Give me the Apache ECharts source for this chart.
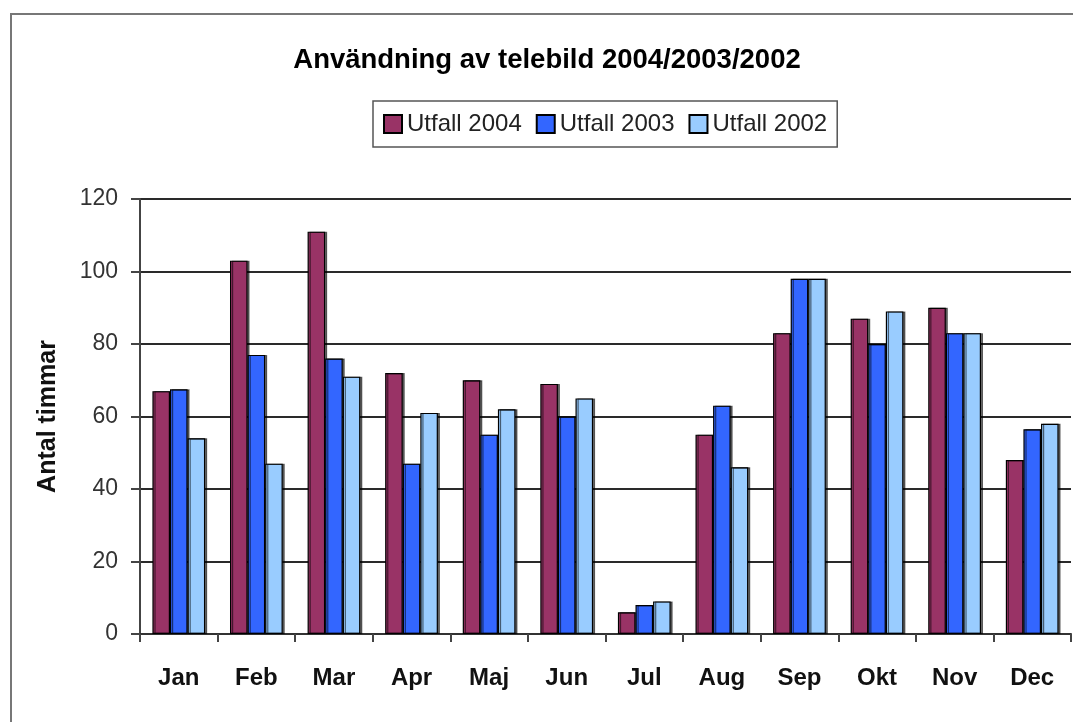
<!DOCTYPE html>
<html>
<head>
<meta charset="utf-8">
<script src="https://cdn.jsdelivr.net/npm/echarts@6/dist/echarts.min.js"></script>
<style>
html,body{margin:0;padding:0;background:#fff;}
#main{width:1073px;height:722px;}
</style>
</head>
<body>
<div id="main"></div>
<script>
var manader=['Jan','Feb','Mar','Apr','Maj','Jun','Jul','Aug','Sep','Okt','Nov','Dec'];
var utfall2004=[67,103,111,72,70,69,6,55,83,87,90,48];
var utfall2003=[67.5,77,76,47,55,60,8,63,98,80,83,56.5];
var utfall2002=[54,47,71,61,62,65,9,46,98,89,83,58];
var yTicks=[0,20,40,60,80,100,120];

var myChart=echarts.init(document.getElementById('main'));
var font='"Liberation Sans", Arial, sans-serif';
function stapel(namn,data,farg){
	return {
		name:namn,
		type:'bar',
		data:data,
		barGap:'0%',
		barCategoryGap:'32%',
		itemStyle:{
			color:farg,
			borderColor:'#000',
			borderWidth:1.2,
			shadowColor:'rgba(0,0,0,0.55)',
			shadowOffsetX:2,
			shadowOffsetY:0,
			shadowBlur:0
		}
	};
}
var option={
	animation:false,
	backgroundColor:'#fff',
	graphic:[{
		type:'rect',
		shape:{x:11,y:14,width:1200,height:900},
		style:{fill:'none',stroke:'#777',lineWidth:2}
	}],
	title:{
		text:'Användning av telebild 2004/2003/2002',
		left:542,
		textAlign:'center',
		top:41,
		textStyle:{fontFamily:font,fontWeight:'bold',fontSize:27.5,color:'#000'}
	},
	legend:{
		left:373,
		top:101,
		padding:[11,10,11,10],
		itemWidth:18,
		itemHeight:18,
		itemGap:14,
		icon:'rect',
		borderColor:'#555',
		borderWidth:1.5,
		borderRadius:0,
		textStyle:{fontFamily:font,fontSize:24,color:'#222',padding:[0,0,0,0]},
		data:['Utfall 2004','Utfall 2003','Utfall 2002']
	},
	grid:{left:140,right:2,top:199,bottom:88,containLabel:false},
	xAxis:{
		type:'category',
		data:manader,
		axisLine:{lineStyle:{color:'#333',width:2}},
		axisTick:{show:true,interval:0,length:8,lineStyle:{color:'#444',width:2}},
		axisLabel:{fontFamily:font,fontWeight:'bold',fontSize:24,color:'#111',margin:32,interval:0}
	},
	yAxis:{
		type:'value',
		min:yTicks[0],
		max:yTicks[yTicks.length-1],
		interval:20,
		name:'Antal timmar',
		nameLocation:'middle',
		nameRotate:90,
		nameGap:79,
		nameTextStyle:{fontFamily:font,fontWeight:'bold',fontSize:25,color:'#111'},
		axisLine:{show:true,lineStyle:{color:'#444',width:2}},
		axisTick:{show:true,length:9,lineStyle:{color:'#444',width:2}},
		axisLabel:{fontFamily:font,fontSize:23,color:'#333',margin:22},
		splitLine:{show:true,lineStyle:{color:'#2a2a2a',width:2}}
	},
	series:[
		stapel('Utfall 2004',utfall2004,'#993366'),
		stapel('Utfall 2003',utfall2003,'#3366FF'),
		stapel('Utfall 2002',utfall2002,'#99CCFF')
	]
};
myChart.setOption(option);
</script>
</body>
</html>
